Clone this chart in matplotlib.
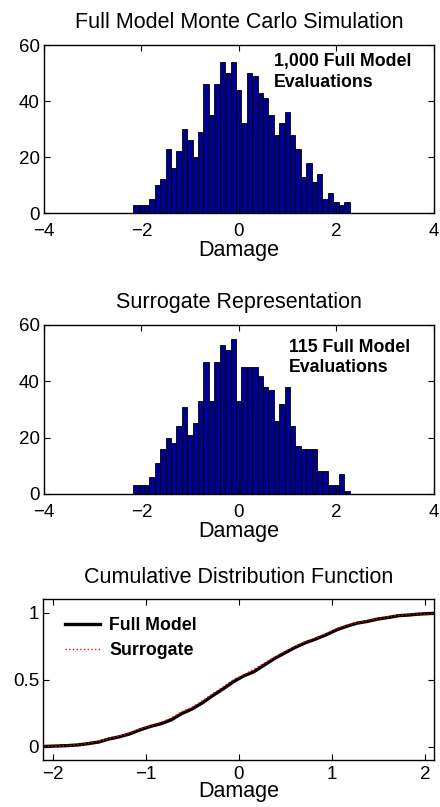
import numpy as np
import matplotlib
matplotlib.use('Agg')
import matplotlib.pyplot as plt

plt.rcParams['font.family'] = ['Liberation Sans', 'DejaVu Sans']

# histogram bins (40 bins over the damage range)
bin_lo = -2.17
bin_w = 0.111
n_bins = 40

# counts
full_counts = [3, 3, 3, 5, 10, 12, 23, 16, 22, 30,
               26, 20, 29, 46, 35, 46, 54, 50, 54, 44,
               32, 50, 49, 43, 41, 35, 28, 32, 36, 28,
               23, 13, 18, 11, 14, 5, 7, 4, 3, 4]
surr_counts = [3, 3, 3, 6, 11, 16, 20, 18, 24, 31,
               21, 25, 33, 47, 33, 47, 53, 51, 55, 33,
               45, 45, 45, 42, 38, 37, 26, 32, 38, 24,
               17, 16, 16, 16, 8, 8, 3, 3, 7, 1]

titles = ['Full Model Monte Carlo Simulation', 'Surrogate Representation',
          'Cumulative Distribution Function']
notes = ['1,000 Full Model\nEvaluations', '115 Full Model\nEvaluations']
legend_labels = ['Full Model', 'Surrogate']

edges = bin_lo + bin_w * np.arange(n_bins + 1)
centers = edges[:-1] + bin_w / 2

bar_col = '#00008F'
tick_fs = 13.5
lab_fs = 15.5
note_fs = 12.8

fig = plt.figure(figsize=(4.4, 8.07), dpi=100)
ax1 = fig.add_axes([0.1, 0.736, 0.886, 0.2082])
ax2 = fig.add_axes([0.1, 0.388, 0.886, 0.2094])
ax3 = fig.add_axes([0.0985, 0.058, 0.8886, 0.1995])


def style(ax, xpad):
    ax.tick_params(direction='in', top=True, right=True, length=4,
                   width=0.8, labelsize=tick_fs)
    ax.tick_params(axis='x', pad=xpad)
    ax.tick_params(axis='y', pad=3)
    for s in ax.spines.values():
        s.set_linewidth(1.0)


for ax, counts, title, note, nx, ny in [(ax1, full_counts, titles[0], notes[0], 0.72, 57),
                                        (ax2, surr_counts, titles[1], notes[1], 1.02, 55)]:
    ax.bar(centers, counts, width=bin_w, color=bar_col, edgecolor='black',
           linewidth=0.6)
    ax.set_xlim(-4, 4)
    ax.set_ylim(0, 60)
    ax.set_xticks([-4, -2, 0, 2, 4])
    ax.set_xticklabels(['\u22124', '\u22122', '0', '2', '4'])
    ax.set_yticks([0, 20, 40, 60])
    ax.set_title(title, fontsize=lab_fs, pad=12)
    ax.set_xlabel('Damage', fontsize=lab_fs, labelpad=0)
    ax.text(nx, ny, note, fontsize=note_fs, fontweight='bold',
            va='top', ha='left', linespacing=1.25)
    style(ax, 7)

# cumulative distribution from the histogram counts
full_cdf = np.concatenate([[0], np.cumsum(full_counts)]) / np.sum(full_counts)
surr_cdf = np.concatenate([[0], np.cumsum(surr_counts)]) / np.sum(surr_counts)

ax3.plot(edges, full_cdf, color='black', lw=2.4, label=legend_labels[0])
ax3.plot(edges, surr_cdf, color='red', lw=1.0, ls=':', label=legend_labels[1])
ax3.set_xlim(-2.1, 2.1)
ax3.set_ylim(-0.1, 1.1)
ax3.set_xticks([-2, -1, 0, 1, 2])
ax3.set_xticklabels(['\u22122', '\u22121', '0', '1', '2'])
ax3.set_yticks([0, 0.5, 1])
ax3.set_yticklabels(['0', '0.5', '1'])
ax3.set_title(titles[2], fontsize=lab_fs, pad=12)
ax3.set_xlabel('Damage', fontsize=lab_fs, labelpad=-1)
ax3.legend(loc='upper left', bbox_to_anchor=(0.055, 0.89), frameon=False,
           borderpad=0, borderaxespad=0, handlelength=2.0, handletextpad=0.5,
           labelspacing=0.45, prop={'weight': 'bold', 'size': note_fs})
style(ax3, 4)

fig.savefig('out.png', dpi=100)
